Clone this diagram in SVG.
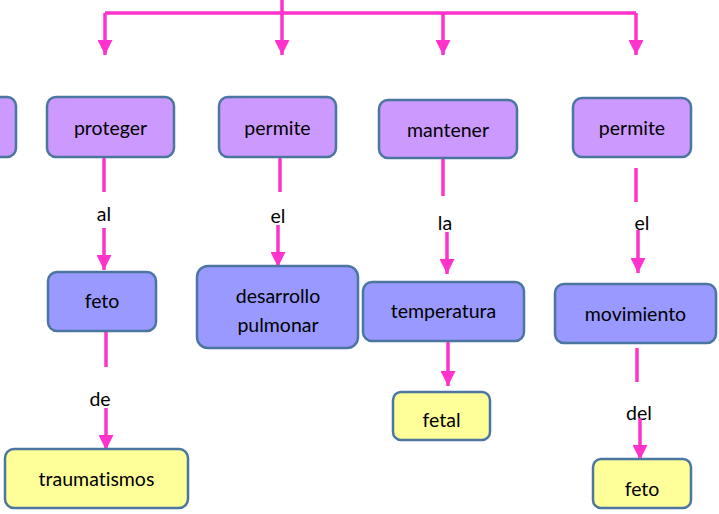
<svg xmlns="http://www.w3.org/2000/svg" width="719" height="514" viewBox="0 0 719 514">
<defs>
<marker id="ah" markerWidth="15" markerHeight="15" viewBox="0 0 15 15" refX="15" refY="7.5" orient="auto" markerUnits="userSpaceOnUse">
<path d="M0,0 L15,7.5 L0,15 Z" fill="#FF33CC"/>
</marker>
<style>
.c{stroke:#FF33CC;stroke-width:3.5;fill:none}
.a{stroke:#FF33CC;stroke-width:3.5;fill:none;marker-end:url(#ah)}
.n rect{stroke:#4A76A0;stroke-width:2.5}
.p{fill:#CC99FF}
.b{fill:#9999FF}
.y{fill:#FFFF99}
text{font-family:Lato,"Open Sans",sans-serif;font-size:19.5px;fill:#000;text-anchor:middle;dominant-baseline:central;font-variant-ligatures:none}
</style>
</defs>
<g id="connectors">
<path class="c" d="M282,0 V13 M105,13 H636"/>
<path class="a" d="M105,13 V55"/>
<path class="a" d="M282,13 V55"/>
<path class="a" d="M443,13 V55"/>
<path class="a" d="M636,13 V55"/>
<path class="c" d="M104,157 V192"/>
<text x="104" y="213">al</text>
<path class="a" d="M104,228 V270"/>
<path class="c" d="M106,332 V367"/>
<text x="100" y="398">de</text>
<path class="a" d="M106,408 V450"/>
<path class="c" d="M280,157 V192"/>
<text x="278" y="215">el</text>
<path class="a" d="M278,225 V267"/>
<path class="c" d="M443,158 V196"/>
<text x="445" y="222">la</text>
<path class="a" d="M447,232 V274"/>
<path class="a" d="M448,342 V386"/>
<path class="c" d="M636,168 V202"/>
<text x="642" y="222">el</text>
<path class="a" d="M638,230 V273"/>
<path class="c" d="M637,348 V382"/>
<text x="639" y="412">del</text>
<path class="a" d="M640,418 V460"/>
</g>
<g id="n0" class="n"><rect class="p" x="-20" y="97" width="36" height="60" rx="9"/></g>
<g id="n1" class="n"><rect class="p" x="47" y="97" width="127" height="60" rx="9"/><text x="110.5" y="127">proteger</text></g>
<g id="n2" class="n"><rect class="p" x="219" y="97" width="117" height="60" rx="9"/><text x="277.5" y="127">permite</text></g>
<g id="n3" class="n"><rect class="p" x="379" y="100" width="138" height="58" rx="9"/><text x="448" y="129">mantener</text></g>
<g id="n4" class="n"><rect class="p" x="573" y="98" width="118" height="59" rx="9"/><text x="632" y="127">permite</text></g>
<g id="n5" class="n"><rect class="b" x="48" y="272" width="108" height="59" rx="9"/><text x="102" y="300">feto</text></g>
<g id="n6" class="n"><rect class="b" x="197" y="266" width="161" height="82" rx="11"/><text x="278" y="295">desarrollo</text><text x="278" y="324">pulmonar</text></g>
<g id="n7" class="n"><rect class="b" x="363" y="282" width="161" height="59" rx="9"/><text x="443.5" y="310">temperatura</text></g>
<g id="n8" class="n"><rect class="b" x="555" y="284" width="161" height="59" rx="9"/><text x="635.5" y="313">movimiento</text></g>
<g id="n9" class="n"><rect class="y" x="5" y="449" width="183" height="59" rx="9"/><text x="96.5" y="478">traumatismos</text></g>
<g id="n10" class="n"><rect class="y" x="393" y="392" width="97" height="48" rx="8"/><text x="441.5" y="419">fetal</text></g>
<g id="n11" class="n"><rect class="y" x="593" y="459" width="98" height="49" rx="8"/><text x="642" y="488">feto</text></g>
</svg>
